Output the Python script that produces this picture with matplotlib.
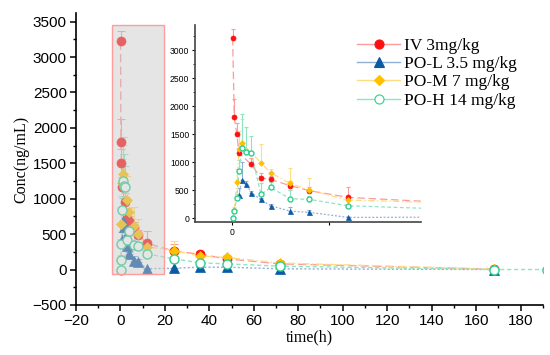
import numpy as np
import matplotlib
matplotlib.use("Agg")
import matplotlib.pyplot as plt
from matplotlib.patches import Rectangle
from matplotlib.lines import Line2D
from matplotlib.ticker import MultipleLocator

# data (time in h, conc in ng/mL, upper error)
iv_t = [0.083, 0.25, 0.5, 0.75, 2, 3, 4, 6, 8, 12, 24, 36, 48, 72, 168]
iv_c = [3220, 1800, 1510, 1160, 960, 720, 690, 580, 490, 370, 262, 215, 150, 80, 5]
iv_e = [150, 330, 190, 150, 120, 80, 60, 90, 70, 180, 100, 40, 30, 20, 5]

pol_t = [0.75, 1, 1.5, 2, 3, 4, 6, 8, 12, 24, 36, 48, 72, 168]
pol_c = [411, 679, 601, 452, 334, 220, 125, 102, 12, 18, 33, 33, 10, 0]
pol_e = [120, 330, 60, 40, 30, 30, 70, 50, 10, 10, 10, 10, 5, 0]

pom_t = [0.25, 0.5, 0.75, 1, 3, 4, 6, 8, 12, 24, 36, 48, 72, 168]
pom_c = [140, 637, 1227, 1345, 988, 810, 619, 500, 321, 268, 190, 170, 92, 5]
pom_e = [60, 240, 330, 420, 330, 60, 270, 210, 60, 130, 40, 30, 20, 5]

poh_t = [0.083, 0.25, 0.5, 0.75, 1, 1.5, 2, 3, 4, 6, 8, 12, 24, 36, 48, 72, 168, 192]
poh_c = [0, 130, 357, 840, 1245, 1185, 1167, 423, 548, 345, 334, 220, 151, 95, 80, 47, 0, 0]
poh_e = [0, 40, 80, 200, 620, 445, 300, 200, 100, 150, 60, 40, 30, 20, 20, 15, 0, 0]

labels = ["IV 3mg/kg", "PO-L 3.5 mg/kg", "PO-M 7 mg/kg", "PO-H 14 mg/kg"]

# marker colour, line colour, marker, filled, linestyle
styles = [
    ("#ff1010", "#ff9a9a", "o", True, (0, (6, 3))),
    ("#0b5aa6", "#8fb0d6", "^", True, (0, (1.5, 1.5))),
    ("#ffc000", "#ffdc80", "D", True, (0, (5, 2, 1, 2))),
    ("#2fcf8f", "#8fe5c2", "o", False, (0, (3, 2))),
]
series = [(iv_t, iv_c, iv_e), (pol_t, pol_c, pol_e), (pom_t, pom_c, pom_e), (poh_t, poh_c, poh_e)]

sans = ["Liberation Sans", "DejaVu Sans"]
serif = ["Liberation Serif", "DejaVu Serif"]


def draw(ax, ms, lw, cap):
    for (t, c, e), (mc, lc, mk, filled, ls) in zip(series, styles):
        t = np.array(t); c = np.array(c); e = np.array(e)
        ax.errorbar(t, c, yerr=[np.zeros_like(e), e], fmt="none", ecolor=lc,
                    elinewidth=0.8, capsize=cap, capthick=0.8, zorder=2)
        ax.plot(t, c, color=lc, lw=lw, ls=ls, zorder=3)
        ms_ = ms * (0.8 if mk == "D" else 1.0)
        ax.plot(t, c, ls="none", marker=mk, ms=ms_,
                mfc=mc if filled else "white", mec=mc, mew=1.0 if not filled else 0.5,
                zorder=4)


fig = plt.figure(figsize=(5.5, 3.55), dpi=100)

ax = fig.add_axes([0.138, 0.141, 0.849, 0.822])
draw(ax, 6.5, 1.0, 3)
ax.set_xlim(-20, 190)
ax.set_ylim(-500, 3620)
ax.xaxis.set_major_locator(MultipleLocator(20))
ax.xaxis.set_minor_locator(MultipleLocator(10))
ax.yaxis.set_major_locator(MultipleLocator(500))
ax.yaxis.set_minor_locator(MultipleLocator(250))
for s in ["top", "right"]:
    ax.spines[s].set_visible(False)
for s in ["left", "bottom"]:
    ax.spines[s].set_linewidth(1.2)
ax.tick_params(which="major", direction="out", length=4, width=1.1, labelsize=11, pad=2.5)
ax.tick_params(which="minor", direction="out", length=2.5, width=1.0)
for lab in ax.get_xticklabels() + ax.get_yticklabels():
    lab.set_fontfamily(sans)
ax.set_xlabel("time(h)", fontfamily=serif, fontsize=11.5, labelpad=1)
ax.set_ylabel("Conc(ng/mL)", fontfamily=serif, fontsize=11.5, labelpad=2)

# zoom box
ax.add_patch(Rectangle((-3.7, -70), 23.4, 3520, facecolor=(0.78, 0.78, 0.78, 0.45),
                       edgecolor="#ff9c9c", lw=1.0, zorder=6))

# inset
ins = fig.add_axes([0.3545, 0.3746, 0.411, 0.555])
ins.patch.set_alpha(0)
draw(ins, 3.6, 0.9, 1.5)
ins.set_xlim(-3.8, 19.5)
ins.set_ylim(-70, 3450)
ins.set_xticks([0, 10])
ins.set_xticklabels(["0", ""])
ins.yaxis.set_major_locator(MultipleLocator(500))
ins.yaxis.set_minor_locator(MultipleLocator(250))
for s in ["top", "right"]:
    ins.spines[s].set_visible(False)
for s in ["left", "bottom"]:
    ins.spines[s].set_linewidth(1.2)
    ins.spines[s].set_color("#444444")
ins.tick_params(which="major", direction="out", length=2.5, width=0.8, labelsize=6.2, pad=1.5)
ins.tick_params(which="minor", direction="out", length=1.5, width=0.6)
for lab in ins.get_xticklabels() + ins.get_yticklabels():
    lab.set_fontfamily(sans)

handles = []
for mc, lc, mk, filled, ls in styles:
    handles.append(Line2D([], [], color=lc, lw=1.0, marker=mk,
                          ms=6.5 if mk != "D" else 5.5,
                          mfc=mc if filled else "white", mec=mc, mew=0.8))
leg = fig.legend(handles, labels, loc="upper left", bbox_to_anchor=(0.637, 0.913),
                 frameon=False, prop={"family": serif, "size": 12.5},
                 handlelength=2.45, labelspacing=0.12, handletextpad=0.25, borderaxespad=0)
leg.set_zorder(10)

fig.savefig("out.png", dpi=100)
